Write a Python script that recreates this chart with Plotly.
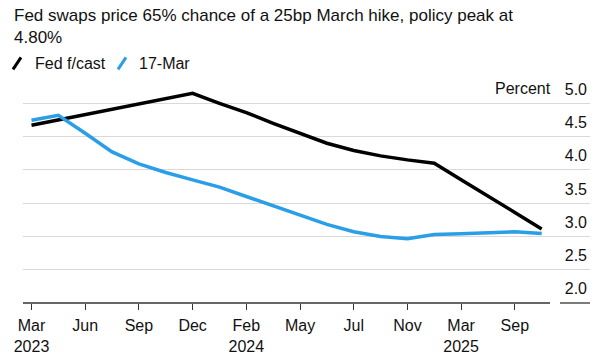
import plotly.graph_objects as go

# ---- data ----
x_idx = list(range(20))
fed_fcast = [4.67, 4.75, 4.83, 4.90, 4.98, 5.07, 5.15, 5.00, 4.86, 4.70,
             4.55, 4.40, 4.29, 4.21, 4.15, 4.10, 3.85, 3.61, 3.36, 3.11]
mar17 = [4.745, 4.82, 4.55, 4.27, 4.09, 3.96, 3.85, 3.74, 3.60, 3.46,
         3.32, 3.18, 3.07, 3.00, 2.965, 3.03, 3.04, 3.055, 3.07, 3.045]
x_tick_pos = [0, 2, 4, 6, 8, 10, 12, 14, 16, 18]
x_tick_labels = ["Mar<br>2023", "Jun", "Sep", "Dec", "Feb<br>2024", "May",
                 "Jul", "Nov", "Mar<br>2025", "Sep"]
y_ticks = [2.0, 2.5, 3.0, 3.5, 4.0, 4.5, 5.0]
y_tick_labels = ["2.0", "2.5", "3.0", "3.5", "4.0", "4.5", "5.0"]
series_names = ["Fed f/cast", "17-Mar"]
series_colors = ["#000000", "#2b9ee8"]
title_text = "Fed swaps price 65% chance of a 25bp March hike, policy peak at<br>4.80%"

FONT = "Liberation Sans, Arial, sans-serif"
W, H = 600, 354
Y_MIN, Y_MAX = 2.0, 5.5
ML, MR, MB = 23, 10, 51
PX_PER_UNIT = 200 / 3.0
PH = (Y_MAX - Y_MIN) * PX_PER_UNIT
MT = H - MB - PH
PW = W - ML - MR


def px_x(px):
    return (px - ML) / PW


def px_y(py):
    return (H - MB - py) / PH


fig = go.Figure()
for name, vals, col in zip(series_names, [fed_fcast, mar17], series_colors):
    fig.add_trace(go.Scatter(x=x_idx, y=vals, mode="lines", name=name,
                             line=dict(color=col, width=3.5),
                             showlegend=False, hoverinfo="skip"))

shapes = []
# x axis baseline with small gap near the right labels
shapes.append(dict(type="line", xref="paper", yref="paper", x0=0, x1=px_x(550),
                   y0=0, y1=0, line=dict(color="#333333", width=1.3)))
shapes.append(dict(type="line", xref="paper", yref="paper", x0=px_x(560), x1=1,
                   y0=0, y1=0, line=dict(color="#333333", width=1.3)))

annotations = []
# title
annotations.append(dict(text=title_text, xref="paper", yref="paper",
                        x=px_x(12), y=px_y(4), xanchor="left", yanchor="top",
                        align="left", showarrow=False,
                        font=dict(size=17, color="#111111", family=FONT)))
# custom legend with slanted swatches
leg_x = [12, 117]
txt_x = [33, 137]
for lx, tx, name, col in zip(leg_x, txt_x, series_names, series_colors):
    shapes.append(dict(type="line", xref="paper", yref="paper",
                       x0=px_x(lx + 1), y0=px_y(69), x1=px_x(lx + 9), y1=px_y(57),
                       line=dict(color=col, width=3)))
    annotations.append(dict(text=name, xref="paper", yref="paper",
                            x=px_x(tx), y=px_y(63), xanchor="left", yanchor="middle",
                            showarrow=False, font=dict(size=16, color="#111111", family=FONT)))

annotations.append(dict(text="Percent", xref="paper", yref="paper",
                        x=px_x(553), y=px_y(88), xanchor="right", yanchor="middle",
                        showarrow=False, font=dict(size=16, color="#111111", family=FONT)))

fig.update_layout(
    width=W, height=H,
    margin=dict(l=ML, r=MR, t=MT, b=MB),
    plot_bgcolor="white", paper_bgcolor="white",
    font=dict(family=FONT, size=16, color="#111111"),
    shapes=shapes,
    annotations=annotations,
    showlegend=False,
    xaxis=dict(range=[-0.317, 20.8], tickvals=x_tick_pos, ticktext=x_tick_labels,
               ticks="outside", ticklen=6, tickcolor="#333333", tickwidth=1,
               ticklabelstandoff=2, automargin=False,
               showgrid=False, zeroline=False, showline=False,
               tickfont=dict(size=16, family=FONT, color="#111111")),
    yaxis=dict(range=[Y_MIN, Y_MAX], tickvals=y_ticks, ticktext=y_tick_labels,
               side="right", ticklabelposition="inside top", ticks="",
               ticklabelshift=-3, automargin=False,
               showgrid=True, gridcolor="#d9d9d9", gridwidth=1,
               zeroline=False, showline=False,
               tickfont=dict(size=16, family=FONT, color="#111111")),
)

fig.write_html("out.html")
